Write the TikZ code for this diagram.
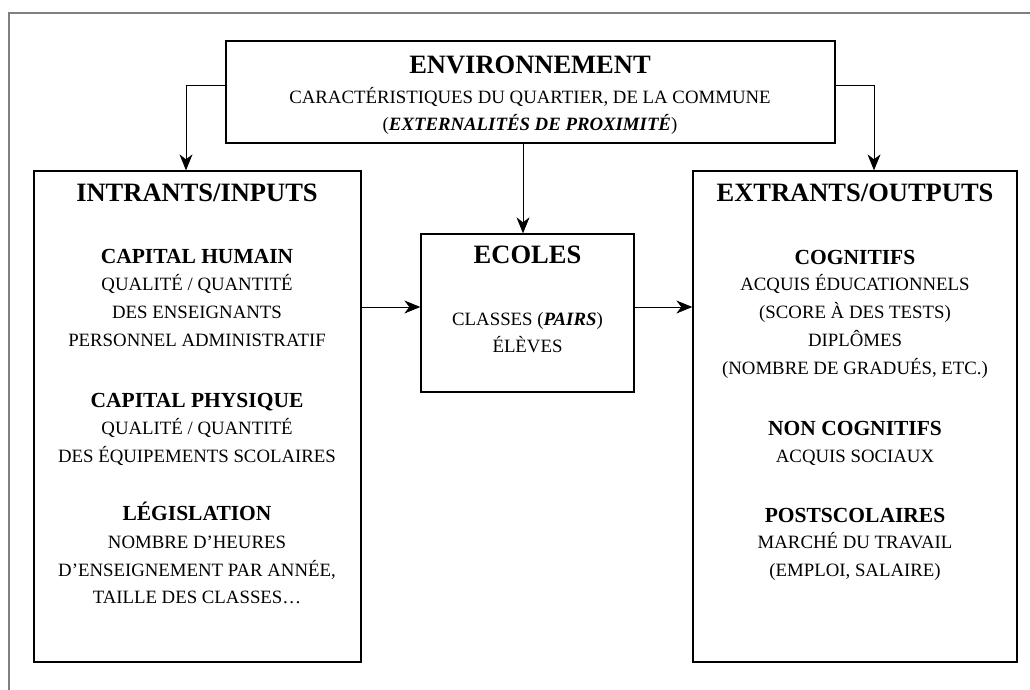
\documentclass[tikz,border=0pt]{standalone}
\usepackage{fontspec}
\setmainfont{Liberation Serif}
\usetikzlibrary{arrows.meta}
\begin{document}
\begin{tikzpicture}[x=1pt,y=-1pt,
  box/.style={draw=black, line width=1.3pt, inner sep=0pt},
  arr/.style={draw=black, line width=1pt, -{Stealth[length=16pt,width=13pt,inset=5pt]}},
  ttl/.style={anchor=base, inner sep=0pt, font=\fontsize{26.5}{30}\selectfont\bfseries},
  sub/.style={anchor=base, inner sep=0pt, font=\fontsize{21.5}{25}\selectfont\bfseries},
  txt/.style={anchor=base, inner sep=0pt, font=\fontsize{18.8}{22}\selectfont},
  frame/.style={draw=black!50, line width=1.4pt}]
\useasboundingbox (0,0) rectangle (1030,690);
\draw[frame] (9,700) -- (9,13) -- (1040,13);
% boxes
\node[box, minimum width=609pt, minimum height=102pt] (env) at (530.5,92) {};
\node[box, minimum width=327pt, minimum height=491pt] (inputs) at (197.5,416.5) {};
\node[box, minimum width=324pt, minimum height=491pt] (outputs) at (855,416.5) {};
\node[box, minimum width=213pt, minimum height=158pt] (ecoles) at (527.5,313) {};
% environment text
\node[ttl] (envt) at (530,73.5) {ENVIRONNEMENT};
\node[txt] (env1) at (530,104) {CARACTÉRISTIQUES DU QUARTIER, DE LA COMMUNE};
\node[txt] (env2) at (530,131) {(\textbf{\textit{EXTERNALITÉS DE PROXIMITÉ}})};
% inputs text
\node[ttl] (int) at (197,201.5) {INTRANTS/INPUTS};
\node[sub] (ch) at (197,263) {CAPITAL HUMAIN};
\node[txt] (ch1) at (197,290) {QUALITÉ / QUANTITÉ};
\node[txt] (ch2) at (197,318) {DES ENSEIGNANTS};
\node[txt] (ch3) at (197,346) {PERSONNEL ADMINISTRATIF};
\node[sub] (cp) at (197,407) {CAPITAL PHYSIQUE};
\node[txt] (cp1) at (197,434) {QUALITÉ / QUANTITÉ};
\node[txt] (cp2) at (197,462) {DES ÉQUIPEMENTS SCOLAIRES};
\node[sub] (lg) at (197,520) {LÉGISLATION};
\node[txt] (lg1) at (197,548) {NOMBRE D’HEURES};
\node[txt] (lg2) at (197,576) {D’ENSEIGNEMENT PAR ANNÉE,};
\node[txt] (lg3) at (197,603) {TAILLE DES CLASSES…};
% ecoles text
\node[ttl] (ect) at (527.5,263.5) {ECOLES};
\node[txt] (ec1) at (527.5,325) {CLASSES (\textbf{\textit{PAIRS}})};
\node[txt] (ec2) at (527.5,352) {ÉLÈVES};
% outputs text
\node[ttl] (ext) at (855,201.5) {EXTRANTS/OUTPUTS};
\node[sub] (cg) at (855,264) {COGNITIFS};
\node[txt] (cg1) at (855,290) {ACQUIS ÉDUCATIONNELS};
\node[txt] (cg2) at (855,318) {(SCORE À DES TESTS)};
\node[txt] (cg3) at (855,346) {DIPLÔMES};
\node[txt] (cg4) at (855,374) {(NOMBRE DE GRADUÉS, ETC.)};
\node[sub] (nc) at (855,435) {NON COGNITIFS};
\node[txt] (nc1) at (855,462) {ACQUIS SOCIAUX};
\node[sub] (ps) at (855,522) {POSTSCOLAIRES};
\node[txt] (ps1) at (855,548) {MARCHÉ DU TRAVAIL};
\node[txt] (ps2) at (855,576) {(EMPLOI, SALAIRE)};
% connectors
\draw[arr] ([yshift=6pt]env.west) -| ([xshift=-11.5pt]inputs.north);
\draw[arr] ([yshift=6pt]env.east) -| ([xshift=19pt]outputs.north);
\draw[arr] ([xshift=-4.5pt]ecoles.north |- env.south) -- ([xshift=-4.5pt]ecoles.north);
\coordinate (mid) at ([yshift=6pt]ecoles.west);
\draw[arr] (inputs.east |- mid) -- (mid);
\draw[arr] ([yshift=6pt]ecoles.east) -- (outputs.west |- mid);
\end{tikzpicture}
\end{document}
